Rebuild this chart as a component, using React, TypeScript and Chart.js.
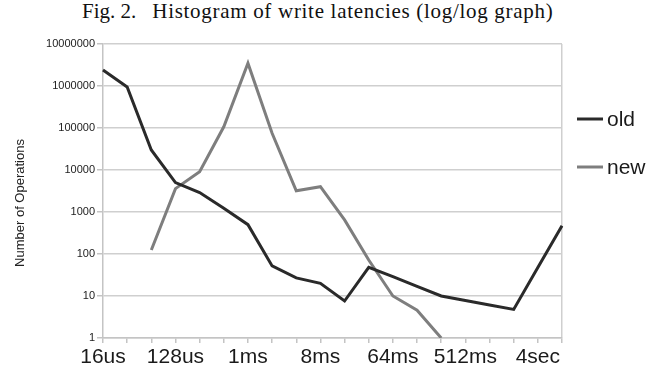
import React, { useEffect, useRef } from 'react';
import { Chart, registerables } from 'chart.js';

Chart.register(...registerables);

const categories = ['16us', '32us', '64us', '128us', '256us', '512us', '1ms', '2ms', '4ms', '8ms', '16ms', '32ms', '64ms', '128ms', '256ms', '512ms', '1sec', '2sec', '4sec', '8sec'];
const oldValues = [2400000, 950000, 30000, 5000, 2900, 1230, 500, 52, 27, 20, 7.6, 48, 29, 17, 10, 7.8, 6.1, 4.8, 48, 470];
const newValues = [null, null, 125, 3600, 9100, 107000, 3500000, 75000, 3200, 4000, 650, 72, 10, 4.6, 1, null, null, null, null, null];
const yTicks = [1, 10, 100, 1000, 10000, 100000, 1000000, 10000000];
const seriesNames = ['old', 'new'];
const seriesColors = ['#2a2a2a', '#7e7e7e'];
const titleLabel = 'Fig. 2.';
const titleText = 'Histogram of write latencies (log/log graph)';
const yTitle = 'Number of Operations';

const SANS = '"Liberation Sans", Arial, sans-serif';

const overlayPlugin = {
  id: 'overlay',
  afterDraw(chart: any) {
    const { ctx, chartArea } = chart;
    ctx.save();
    ctx.translate(chartArea.left - 83, 203);
    ctx.rotate(-Math.PI / 2);
    ctx.font = `13px ${SANS}`;
    ctx.fillStyle = '#222';
    ctx.textAlign = 'center';
    ctx.textBaseline = 'middle';
    ctx.fillText(yTitle, 0, 0);
    ctx.restore();

    ctx.save();
    chart.data.datasets.forEach((ds: any, i: number) => {
      const y = 119 + i * 48;
      const x0 = chartArea.right + 15;
      ctx.strokeStyle = ds.borderColor;
      ctx.lineWidth = 3;
      ctx.beginPath();
      ctx.moveTo(x0, y);
      ctx.lineTo(x0 + 26, y);
      ctx.stroke();
      ctx.font = `21px ${SANS}`;
      ctx.fillStyle = '#1a1a1a';
      ctx.textAlign = 'left';
      ctx.textBaseline = 'middle';
      ctx.fillText(ds.label, x0 + 30, y + 1);
    });
    ctx.restore();
  },
};

export default function App() {
  const ref = useRef<HTMLCanvasElement | null>(null);
  useEffect(() => {
    if (!ref.current) return;
    const chart = new Chart(ref.current, {
      type: 'line',
      data: {
        labels: categories,
        datasets: [
          { label: seriesNames[0], data: oldValues, borderColor: seriesColors[0], backgroundColor: seriesColors[0], borderWidth: 3, pointRadius: 0, tension: 0, spanGaps: false },
          { label: seriesNames[1], data: newValues as any, borderColor: seriesColors[1], backgroundColor: seriesColors[1], borderWidth: 3, pointRadius: 0, tension: 0, spanGaps: false },
        ],
      },
      options: {
        animation: false,
        responsive: false,
        devicePixelRatio: 1,
        layout: { padding: { top: 44, right: 101, bottom: 0, left: 0 } },
        plugins: { legend: { display: false }, title: { display: false }, tooltip: { enabled: false } },
        scales: {
          x: {
            type: 'category',
            offset: false,
            grid: {
              color: (c: any) => (c.index === categories.length - 1 ? '#cfcfcf' : 'rgba(0,0,0,0)'),
              tickColor: '#c4c4c4',
              tickLength: 5,
              lineWidth: 1.5,
            },
            border: { color: '#c4c4c4', width: 1.5 },
            ticks: {
              autoSkip: false,
              maxRotation: 0,
              minRotation: 0,
              padding: 2,
              color: '#1a1a1a',
              font: { family: SANS, size: 21 },
              callback: (_v: any, i: number) => (i % 3 === 0 ? categories[i] : ''),
            },
            afterFit: (s: any) => { s.height = 36; s.paddingLeft = 0; s.paddingRight = 0; },
          },
          y: {
            type: 'logarithmic',
            min: 1,
            max: 10000000,
            afterBuildTicks: (s: any) => { s.ticks = yTicks.map((v) => ({ value: v })); },
            grid: { color: '#cfcfcf', tickColor: '#c4c4c4', tickLength: 6, lineWidth: 1.5 },
            border: { color: '#c4c4c4', width: 1.5 },
            ticks: {
              padding: 2,
              color: '#222',
              font: { family: SANS, size: 11 },
              callback: (v: any) => String(v),
            },
            afterFit: (s: any) => { s.width = 103; s.paddingTop = 0; s.paddingBottom = 0; },
          },
        },
      },
      plugins: [overlayPlugin],
    });
    return () => chart.destroy();
  }, []);

  return (
    <div style={{ position: 'fixed', left: 0, top: 0, width: 663, height: 374, background: '#fff', overflow: 'hidden' }}>
      <div style={{ position: 'absolute', left: 82, top: -1, fontFamily: '"Liberation Serif", "Times New Roman", serif', fontSize: 21, whiteSpace: 'pre', color: '#111' }}>
        <span>{titleLabel}</span>
        <span style={{ marginLeft: 16, letterSpacing: 0.7 }}>{titleText}</span>
      </div>
      <canvas ref={ref} width={663} height={374} style={{ position: 'absolute', left: 0, top: 0 }} />
    </div>
  );
}
